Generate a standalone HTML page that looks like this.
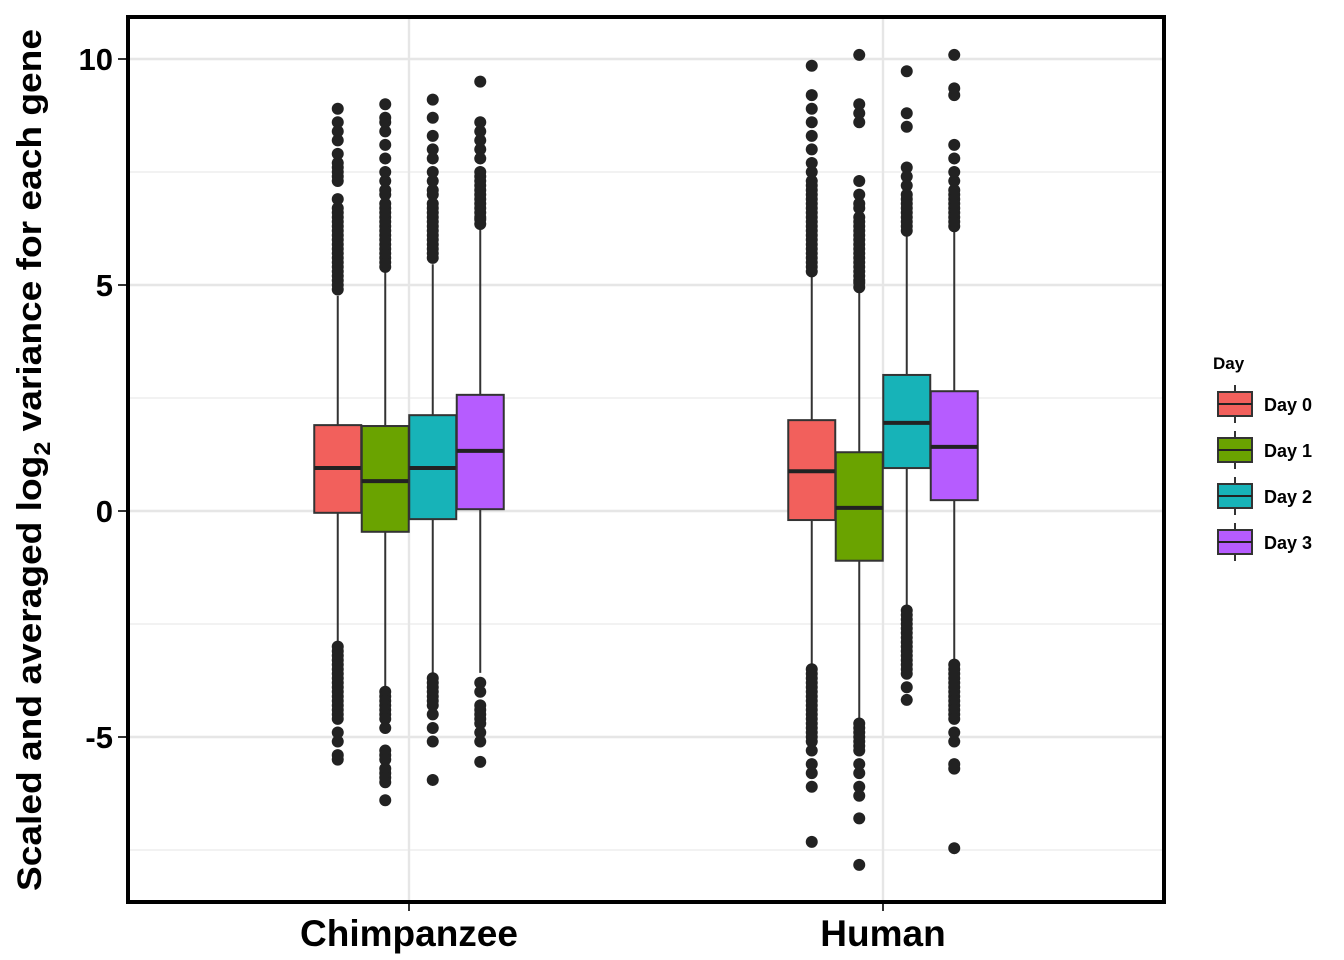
<!DOCTYPE html>
<html><head><meta charset="utf-8"><style>
body{margin:0;background:#fff}
svg{font-family:"Liberation Sans",Arial,sans-serif;display:block}
</style></head><body>
<svg id="chart" width="1344" height="960">
<g id="grid"></g>
<g id="marks"></g>
<rect x="128" y="17" width="1036" height="885" fill="none" stroke="#000" stroke-width="4"/>
<g id="axes"></g>
<text transform="translate(41,460) rotate(-90)" text-anchor="middle" font-size="34" font-weight="bold" textLength="862" lengthAdjust="spacingAndGlyphs">Scaled and averaged log<tspan font-size="23" dy="9">2</tspan><tspan dy="-9"> variance for each gene</tspan></text>
<g id="legend"><text x="1213" y="369" font-size="17" font-weight="bold">Day</text></g>
</svg>
<script>
const groups=["Chimpanzee","Human"];
const days=["Day 0","Day 1","Day 2","Day 3"];
const colors=["#F2605C","#6AA300","#17B3B8","#B65CFF"];
const yTicks=[10,5,0,-5];
const yMinor=[7.5,2.5,-2.5,-7.5];
// [whiskerLow, q1, median, q3, whiskerHigh] per group per day
const chimpStats=[[-2.9,-0.04,0.95,1.9,4.76],[-3.9,-0.46,0.66,1.88,5.3],[-3.58,-0.18,0.95,2.12,5.46],[-3.58,0.04,1.33,2.57,6.26]];
const humanStats=[[-3.45,-0.2,0.88,2.01,5.2],[-4.6,-1.1,0.07,1.3,4.85],[-2.1,0.95,1.95,3.01,6.64],[-3.3,0.24,1.42,2.65,6.22]];
const chimpOut=[
[4.9,5.0,5.1,5.2,5.3,5.4,5.5,5.6,5.7,5.8,5.9,6.0,6.1,6.2,6.3,6.4,6.5,6.6,6.7,6.9,7.3,7.4,7.5,7.6,7.7,7.9,8.2,8.4,8.6,8.9,-3.0,-3.1,-3.2,-3.3,-3.4,-3.5,-3.6,-3.7,-3.8,-3.9,-4.0,-4.1,-4.2,-4.3,-4.4,-4.5,-4.6,-4.9,-5.1,-5.4,-5.5],
[5.4,5.5,5.6,5.7,5.8,5.9,6.0,6.1,6.2,6.3,6.4,6.5,6.6,6.7,6.8,7.0,7.1,7.3,7.5,7.8,8.1,8.4,8.6,8.7,9.0,-4.0,-4.1,-4.2,-4.3,-4.4,-4.5,-4.6,-4.8,-5.3,-5.4,-5.5,-5.7,-5.8,-5.9,-6.0,-6.4],
[5.6,5.7,5.8,5.9,6.0,6.1,6.2,6.3,6.4,6.5,6.6,6.7,6.8,7.0,7.1,7.3,7.5,7.8,8.0,8.3,8.7,9.1,-3.7,-3.8,-3.9,-4.0,-4.1,-4.2,-4.3,-4.5,-4.8,-5.1,-5.95],
[6.35,6.45,6.5,6.6,6.7,6.8,6.9,7.0,7.1,7.2,7.3,7.4,7.5,7.8,8.0,8.2,8.4,8.6,9.5,-3.8,-4.0,-4.3,-4.4,-4.5,-4.6,-4.7,-4.9,-5.1,-5.55]];
const humanOut=[
[5.3,5.4,5.5,5.6,5.7,5.8,5.9,6.0,6.1,6.2,6.3,6.4,6.5,6.6,6.7,6.8,6.9,7.0,7.1,7.2,7.3,7.5,7.7,8.0,8.3,8.6,8.9,9.2,9.85,-3.5,-3.6,-3.7,-3.8,-3.9,-4.0,-4.1,-4.2,-4.3,-4.4,-4.5,-4.6,-4.7,-4.8,-4.9,-5.0,-5.1,-5.3,-5.6,-5.8,-6.1,-7.32],
[4.95,5.05,5.1,5.2,5.3,5.4,5.5,5.6,5.7,5.8,5.9,6.0,6.1,6.2,6.3,6.4,6.5,6.7,6.8,7.0,7.3,8.6,8.8,9.0,10.09,-4.7,-4.8,-4.9,-5.0,-5.1,-5.2,-5.3,-5.6,-5.8,-6.1,-6.3,-6.8,-7.83],
[6.2,6.3,6.4,6.5,6.6,6.7,6.8,6.9,7.0,7.2,7.4,7.6,8.5,8.8,9.73,-2.2,-2.3,-2.4,-2.5,-2.6,-2.7,-2.8,-2.9,-3.0,-3.1,-3.2,-3.3,-3.4,-3.5,-3.6,-3.9,-4.18],
[6.3,6.4,6.5,6.6,6.7,6.8,6.9,7.0,7.1,7.3,7.5,7.8,8.1,9.2,9.35,10.09,-3.4,-3.5,-3.6,-3.7,-3.8,-3.9,-4.0,-4.1,-4.2,-4.3,-4.4,-4.5,-4.6,-4.9,-5.1,-5.6,-5.7,-7.46]];
const stats=[chimpStats,humanStats], outs=[chimpOut,humanOut];
const NS="http://www.w3.org/2000/svg";
const y=v=>511-v*45.2;
const gx=i=>409+i*474;
const bx=(g,d)=>gx(g)+(d-1.5)*47.5;
function mk(p,tag,a){const e=document.createElementNS(NS,tag);for(const k in a)e.setAttribute(k,a[k]);p.appendChild(e);return e;}
const grid=document.getElementById('grid'),marks=document.getElementById('marks'),axes=document.getElementById('axes'),leg=document.getElementById('legend');
yMinor.forEach(v=>{const l=mk(grid,'line',{x1:128,x2:1164,y1:y(v),y2:y(v),stroke:'#ebebeb','stroke-width':1.2});

});
yTicks.forEach(v=>{const l=mk(grid,'line',{x1:128,x2:1164,y1:y(v),y2:y(v),stroke:'#e6e6e6','stroke-width':2.4});


mk(axes,'line',{x1:118,x2:126,y1:y(v),y2:y(v),stroke:'#333','stroke-width':2});
const t=mk(axes,'text',{x:113,y:y(v)+11,'text-anchor':'end','font-size':31,'font-weight':'bold'});t.textContent=v;

});
groups.forEach((gname,g)=>{const l=mk(grid,'line',{x1:gx(g),x2:gx(g),y1:17,y2:902,stroke:'#e6e6e6','stroke-width':2.4});


mk(axes,'line',{x1:gx(g),x2:gx(g),y1:904,y2:911,stroke:'#333','stroke-width':2});
const t=mk(axes,'text',{x:gx(g),y:946,'text-anchor':'middle','font-size':37,'font-weight':'bold'});t.textContent=gname;


days.forEach((dn,d)=>{const s=stats[g][d],c=bx(g,d),w=47;
const grp=mk(marks,'g',{});


mk(grp,'line',{x1:c,x2:c,y1:y(s[0]),y2:y(s[4]),stroke:'#333','stroke-width':2});
mk(grp,'rect',{x:c-w/2,y:y(s[3]),width:w,height:y(s[1])-y(s[3]),fill:colors[d],stroke:'#333','stroke-width':2});
mk(grp,'line',{x1:c-w/2,x2:c+w/2,y1:y(s[2]),y2:y(s[2]),stroke:'#222','stroke-width':4});
outs[g][d].forEach(v=>{const p=mk(grp,'circle',{cx:c,cy:y(v),r:6,fill:'#222'});

});});});
days.forEach((dn,d)=>{const yy=392+d*46;
const k=mk(leg,'g',{});


mk(k,'line',{x1:1235,x2:1235,y1:yy-7,y2:yy+31,stroke:'#333','stroke-width':2});
mk(k,'rect',{x:1218,y:yy,width:34,height:24,fill:colors[d],stroke:'#333','stroke-width':2});
mk(k,'line',{x1:1218,x2:1252,y1:yy+12,y2:yy+12,stroke:'#222','stroke-width':2});
const t=mk(k,'text',{x:1264,y:yy+19,'font-size':18,'font-weight':'bold'});t.textContent=dn;});
</script>
</body></html>
